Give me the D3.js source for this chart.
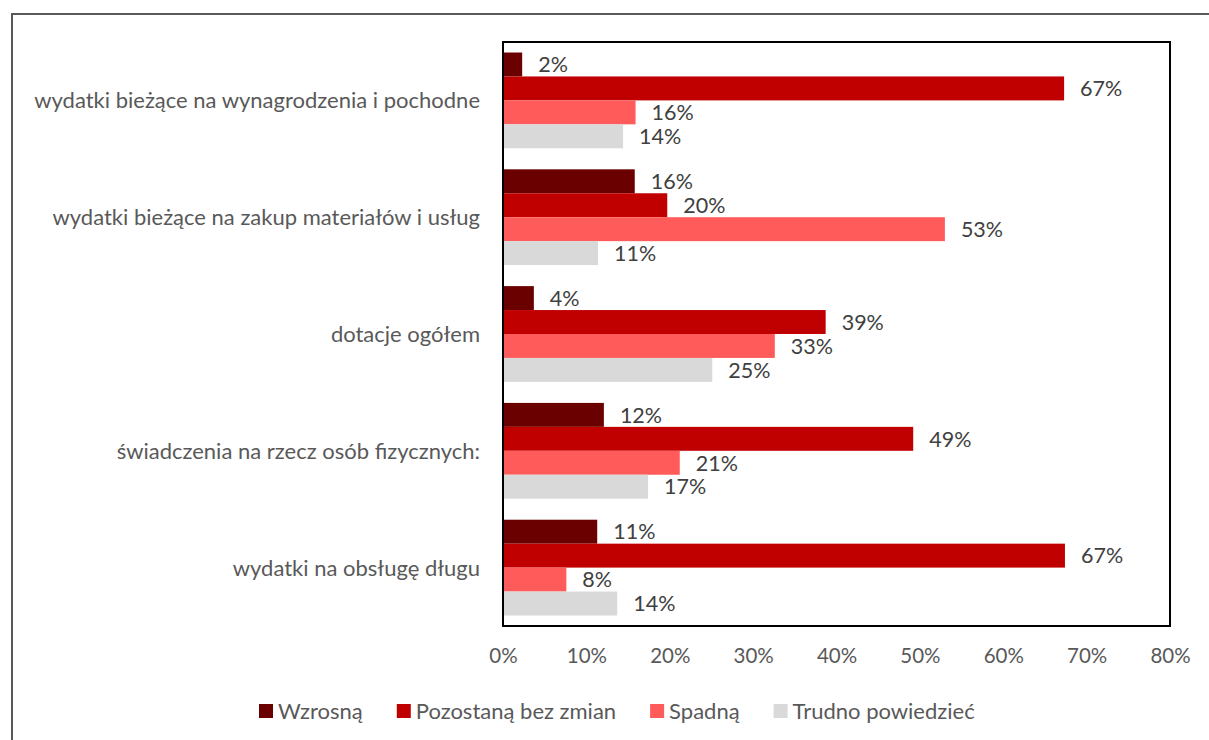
<!DOCTYPE html>
<html>
<head>
<meta charset="utf-8">
<script src="https://cdn.jsdelivr.net/npm/d3@7"></script>
<style>
  body { margin: 0; background: #fff; }
  svg { display: block; font-family: Lato, "Open Sans", sans-serif; }
</style>
</head>
<body>
<div class="graph_container"></div>
<script>
const w = 1209;
const h = 740;

// data
const categories = [
  "wydatki bieżące na wynagrodzenia i pochodne",
  "wydatki bieżące na zakup materiałów i usług",
  "dotacje ogółem",
  "świadczenia na rzecz osób fizycznych:",
  "wydatki na obsługę długu"
];
const seriesNames = ["Wzrosną", "Pozostaną bez zmian", "Spadną", "Trudno powiedzieć"];
const wzrosna   = [0.023, 0.158, 0.037, 0.121, 0.113];
const pozostana = [0.673, 0.197, 0.387, 0.492, 0.674];
const spadna    = [0.159, 0.530, 0.326, 0.212, 0.076];
const trudno    = [0.144, 0.114, 0.251, 0.174, 0.137];
const xTicks = [0, 0.1, 0.2, 0.3, 0.4, 0.5, 0.6, 0.7, 0.8];

const seriesValues = [wzrosna, pozostana, spadna, trudno];
const colors = ["#6b0000", "#c00000", "#ff5b5b", "#d9d9d9"];

const plot = { left: 503, right: 1170, top: 42, bottom: 626 };

const svg = d3.select(".graph_container").append("svg")
  .attr("width", w).attr("height", h);

// outer frame (left + top only visible)
svg.append("path")
  .attr("d", `M12,${h} L12,14 L${w},14`)
  .attr("fill", "none")
  .attr("stroke", "#595959")
  .attr("stroke-width", 2);

const xScale = d3.scaleLinear().domain([0, 0.8]).range([plot.left, plot.right]);
const yScale = d3.scaleBand().domain(categories).range([plot.top, plot.bottom])
  .paddingInner(0.18).paddingOuter(0.09);
const ySub = d3.scaleBand().domain(seriesNames).range([0, yScale.bandwidth()]);

// plot border
svg.append("rect")
  .attr("x", plot.left).attr("y", plot.top)
  .attr("width", plot.right - plot.left).attr("height", plot.bottom - plot.top)
  .attr("fill", "none").attr("stroke", "#000").attr("stroke-width", 2);

// bars
const groups = svg.selectAll(".grp")
  .data(categories)
  .enter().append("g")
  .attr("class", "grp")
  .attr("transform", d => "translate(0," + yScale(d) + ")");

groups.each(function (cat, ci) {
  const g = d3.select(this);
  seriesNames.forEach((s, si) => {
    const v = seriesValues[si][ci];
    g.append("rect")
      .attr("x", xScale(0))
      .attr("y", ySub(s))
      .attr("width", xScale(v) - xScale(0))
      .attr("height", ySub.bandwidth())
      .attr("fill", colors[si]);
    g.append("text")
      .attr("x", xScale(v) + 16)
      .attr("y", ySub(s) + ySub.bandwidth() / 2)
      .attr("dy", "0.36em")
      .attr("fill", "#404040")
      .style("font-size", "21.5px")
      .text(Math.round(v * 100) + "%");
  });
});

// re-draw the left border on top of bars
svg.append("line")
  .attr("x1", plot.left).attr("x2", plot.left)
  .attr("y1", plot.top).attr("y2", plot.bottom)
  .attr("stroke", "#000").attr("stroke-width", 2);

// category labels
svg.selectAll(".cat")
  .data(categories)
  .enter().append("text")
  .attr("class", "cat")
  .attr("x", plot.left - 23)
  .attr("y", d => yScale(d) + yScale.bandwidth() / 2)
  .attr("dy", "0.36em")
  .attr("text-anchor", "end")
  .attr("fill", "#595959")
  .style("font-size", "22px")
  .text(d => d);

// x axis
const xAxis = d3.axisBottom(xScale).tickValues(xTicks)
  .tickFormat(d3.format(".0%")).tickSize(0).tickPadding(22);
const ax = svg.append("g")
  .attr("transform", "translate(0," + plot.bottom + ")")
  .call(xAxis);
ax.select(".domain").remove();
ax.selectAll("text")
  .attr("fill", "#595959")
  .style("font-size", "20.5px")
  .style("font-family", "Lato, sans-serif");

// legend, laid out left to right
const legend = svg.append("g").attr("id", "legend");
let lx = 259;
seriesNames.forEach((name, i) => {
  const item = legend.append("g").attr("transform", "translate(" + lx + ",711)");
  item.append("rect")
    .attr("x", 0).attr("y", -7)
    .attr("width", 14).attr("height", 14)
    .attr("fill", colors[i]);
  const t = item.append("text")
    .attr("x", 19).attr("dy", "0.36em")
    .attr("fill", "#595959")
    .style("font-size", "22px")
    .text(name);
  lx += 19 + t.node().getComputedTextLength() + 34;
});
</script>
</body>
</html>
